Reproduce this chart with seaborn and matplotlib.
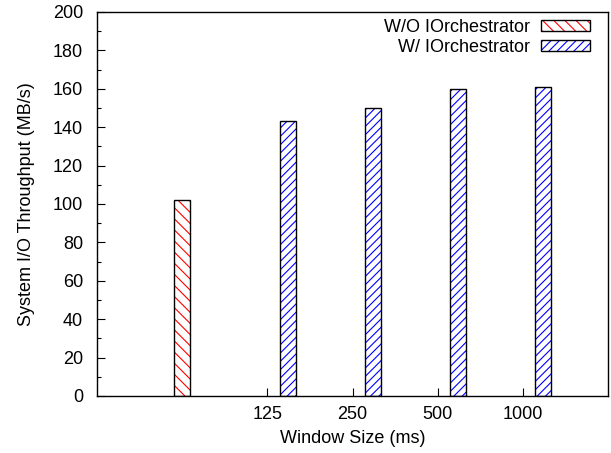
import matplotlib
matplotlib.use("Agg")
import matplotlib.pyplot as plt
from matplotlib.patches import Rectangle, Patch
from matplotlib.ticker import MultipleLocator
from matplotlib.legend_handler import HandlerPatch
import seaborn as sns
import pandas as pd

# Data
window_labels = ["125", "250", "500", "1000"]
without_value = [102]
with_values = [143, 150, 160, 161]
series_names = ["W/O IOrchestrator", "W/ IOrchestrator"]

sns.set_theme(style="ticks")
plt.rcParams["font.family"] = ["Liberation Sans", "DejaVu Sans"]
plt.rcParams["hatch.linewidth"] = 0.8
plt.rcParams["text.color"] = "black"
plt.rcParams["axes.labelcolor"] = "black"
plt.rcParams["xtick.color"] = "black"
plt.rcParams["ytick.color"] = "black"

colors = {series_names[0]: "#ff0000", series_names[1]: "#0000ff"}
hatches = {series_names[0]: "\\\\\\", series_names[1]: "////"}

xs = [0.0] + [i + 1 + 0.24 for i in range(len(with_values))]
df = pd.DataFrame({
    "x": xs,
    "y": without_value + with_values,
    "series": [series_names[0]] * len(without_value) + [series_names[1]] * len(with_values),
})

fig = plt.figure(figsize=(6.11, 4.53), dpi=100)
ax = fig.add_axes([97 / 611, 57 / 453, 511 / 611, 384 / 453])

sns.barplot(data=df, x="x", y="y", hue="series", native_scale=True, dodge=False,
            width=0.19, palette=colors, ax=ax, legend=False)

for patch, s in zip(ax.patches, df["series"]):
    c = colors[s]
    patch.set_facecolor("white")
    patch.set_edgecolor(c)
    patch.set_hatch(hatches[s])
    patch.set_linewidth(0)
    x0, y0 = patch.get_xy()
    ax.add_patch(Rectangle((x0, y0), patch.get_width(), patch.get_height(),
                           fill=False, edgecolor="black", linewidth=1.0, zorder=3))

ax.set_xlim(-1, 5)
ax.set_ylim(0, 200)
ax.set_xticks(range(1, len(window_labels) + 1))
ax.set_xticklabels(window_labels)
ax.yaxis.set_major_locator(MultipleLocator(20))
ax.yaxis.set_minor_locator(MultipleLocator(10))
ax.tick_params(axis="both", which="major", direction="in", length=6, width=0.8,
               labelsize=13, colors="black")
ax.tick_params(axis="y", which="minor", direction="in", length=3, width=0.8, left=True)
ax.tick_params(axis="x", pad=7)
ax.tick_params(axis="y", pad=10)
for sp in ax.spines.values():
    sp.set_visible(True)
    sp.set_color("black")
    sp.set_linewidth(1.0)

ax.set_xlabel("Window Size (ms)", fontsize=13, labelpad=5)
ax.set_ylabel("System I/O Throughput (MB/s)", fontsize=13, labelpad=13)

handles = [Patch(facecolor="white", edgecolor=colors[s], hatch=hatches[s], linewidth=0)
           for s in series_names]


class OutlinedHatch(HandlerPatch):
    def create_artists(self, legend, orig_handle, xdescent, ydescent, width, height, fontsize, trans):
        p1 = Rectangle((-xdescent, -ydescent), width, height, facecolor="white",
                       edgecolor=orig_handle.get_edgecolor(), hatch=orig_handle.get_hatch(),
                       linewidth=0, transform=trans)
        p2 = Rectangle((-xdescent, -ydescent), width, height, fill=False,
                       edgecolor="black", linewidth=1.0, transform=trans)
        return [p1, p2]


ax.legend(handles, series_names, loc="upper right", frameon=False, markerfirst=False,
          fontsize=13, handlelength=2.7, handleheight=0.55, labelspacing=0.15,
          handletextpad=0.6, borderaxespad=0.0, bbox_to_anchor=(0.978, 1.0),
          handler_map={Patch: OutlinedHatch()})

fig.savefig("out.png", dpi=100)
